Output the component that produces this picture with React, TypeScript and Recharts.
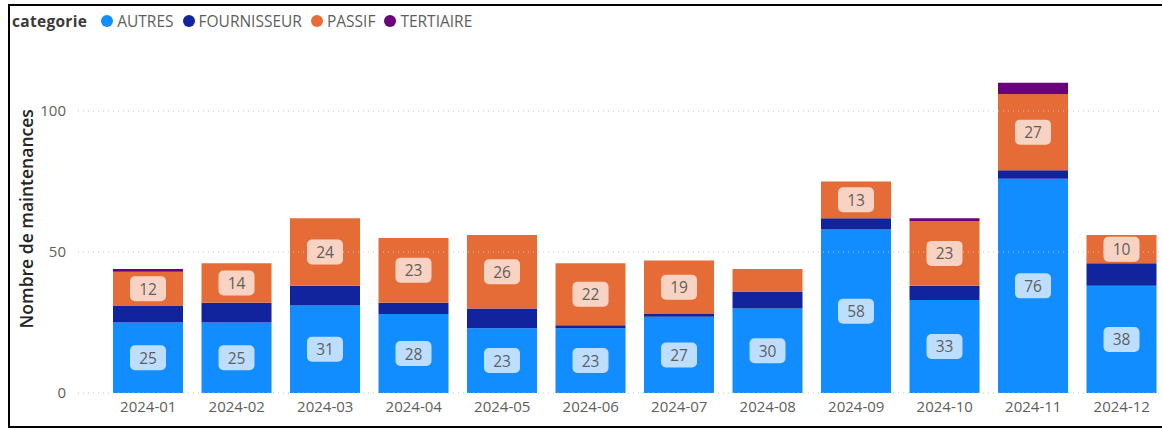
import React from 'react';
import {
  BarChart,
  Bar,
  XAxis,
  YAxis,
  ReferenceLine,
  LabelList,
} from 'recharts';

const months = [
  '2024-01', '2024-02', '2024-03', '2024-04', '2024-05', '2024-06',
  '2024-07', '2024-08', '2024-09', '2024-10', '2024-11', '2024-12',
];
const autres = [25, 25, 31, 28, 23, 23, 27, 30, 58, 33, 76, 38];
const fournisseur = [6, 7, 7, 4, 7, 1, 1, 6, 4, 5, 3, 8];
const passif = [12, 14, 24, 23, 26, 22, 19, 8, 13, 23, 27, 10];
const tertiaire = [1, 0, 0, 0, 0, 0, 0, 0, 0, 1, 4, 0];
const yTicks = [0, 50, 100];

const series = [
  { key: 'AUTRES', color: '#118DFF', box: '#BDDEFF', labels: true },
  { key: 'FOURNISSEUR', color: '#12239E', box: '', labels: false },
  { key: 'PASSIF', color: '#E66C37', box: '#F8D3C3', labels: true },
  { key: 'TERTIAIRE', color: '#6B007B', box: '', labels: false },
];

const data = months.map((m, i) => ({
  month: m,
  AUTRES: autres[i],
  FOURNISSEUR: fournisseur[i],
  PASSIF: passif[i],
  TERTIAIRE: tertiaire[i],
}));

const FONT = '"Segoe UI", "Open Sans", sans-serif';

const makeLabel = (box: string) => (props: any) => {
  const { x, y, width, height, value } = props;
  if (!value || value < 10) return null;
  const cx = Number(x) + Number(width) / 2;
  const cy = Number(y) + Number(height) / 2;
  return (
    <g>
      <rect x={cx - 18} y={cy - 12.5} width={36} height={25} rx={5} fill={box} />
      <text
        x={cx}
        y={cy}
        textAnchor="middle"
        dominantBaseline="central"
        fontSize={15.5}
        fontFamily={FONT}
        fill="#605E5C"
      >
        {value}
      </text>
    </g>
  );
};

const YLabel = (props: any) => {
  const vb = props.viewBox || {};
  const cy = vb.y + vb.height / 2 - 5;
  return (
    <text
      x={26}
      y={cy}
      transform={`rotate(-90, 26, ${cy})`}
      textAnchor="middle"
      dominantBaseline="central"
      fontSize={17.5}
      fontWeight={600}
      fontFamily={FONT}
      fill="#252423"
    >
      Nombre de maintenances
    </text>
  );
};

export default function App() {
  return (
    <div
      style={{
        position: 'absolute',
        left: 0,
        top: 0,
        width: 1162,
        height: 428,
        overflow: 'hidden',
        background: '#fff',
        fontFamily: FONT,
      }}
    >
      <div
        style={{
          position: 'absolute',
          left: 8,
          top: 4,
          width: 1170,
          height: 420,
          border: '2px solid #000',
          borderRight: 'none',
        }}
      />
      <div
        style={{
          position: 'absolute',
          left: 12,
          top: 9,
          display: 'flex',
          alignItems: 'center',
          fontSize: 15.5,
          color: '#605E5C',
          whiteSpace: 'nowrap',
          lineHeight: '24px',
        }}
      >
        <span style={{ fontWeight: 700, color: '#3B3A39', marginRight: 14, letterSpacing: 0.3 }}>
          categorie
        </span>
        {series.map((s) => (
          <span key={s.key} style={{ display: 'flex', alignItems: 'center', marginRight: 9 }}>
            <span
              style={{
                width: 12,
                height: 12,
                borderRadius: 6,
                background: s.color,
                display: 'inline-block',
                marginRight: 4,
              }}
            />
            {s.key}
          </span>
        ))}
      </div>
      <div style={{ position: 'absolute', left: 0, top: 0 }}>
        <BarChart
          width={1166}
          height={428}
          data={data}
          margin={{ top: 54.6, right: 0, bottom: 5, left: 0 }}
        >
          {yTicks.map((t) => (
            <ReferenceLine
              key={t}
              y={t}
              stroke="#C8C6C4"
              strokeDasharray="1 4"
            />
          ))}
          <XAxis
            dataKey="month"
            axisLine={false}
            tickLine={false}
            height={30}
            padding={{ left: 26, right: 0 }}
            tick={{ fill: '#605E5C', fontSize: 15, fontFamily: FONT }}
            interval={0}
          />
          <YAxis
            width={78}
            domain={[0, 120]}
            ticks={yTicks}
            axisLine={false}
            tickLine={false}
            tickMargin={6}
            tick={{ fill: '#605E5C', fontSize: 15, fontFamily: FONT }}
            label={<YLabel />}
          />
          {series.map((s) => (
            <Bar
              key={s.key}
              dataKey={s.key}
              stackId="a"
              fill={s.color}
              barSize={70}
              isAnimationActive={false}
            >
              {s.labels && (
                <LabelList dataKey={s.key} content={makeLabel(s.box)} />
              )}
            </Bar>
          ))}
        </BarChart>
      </div>
    </div>
  );
}
